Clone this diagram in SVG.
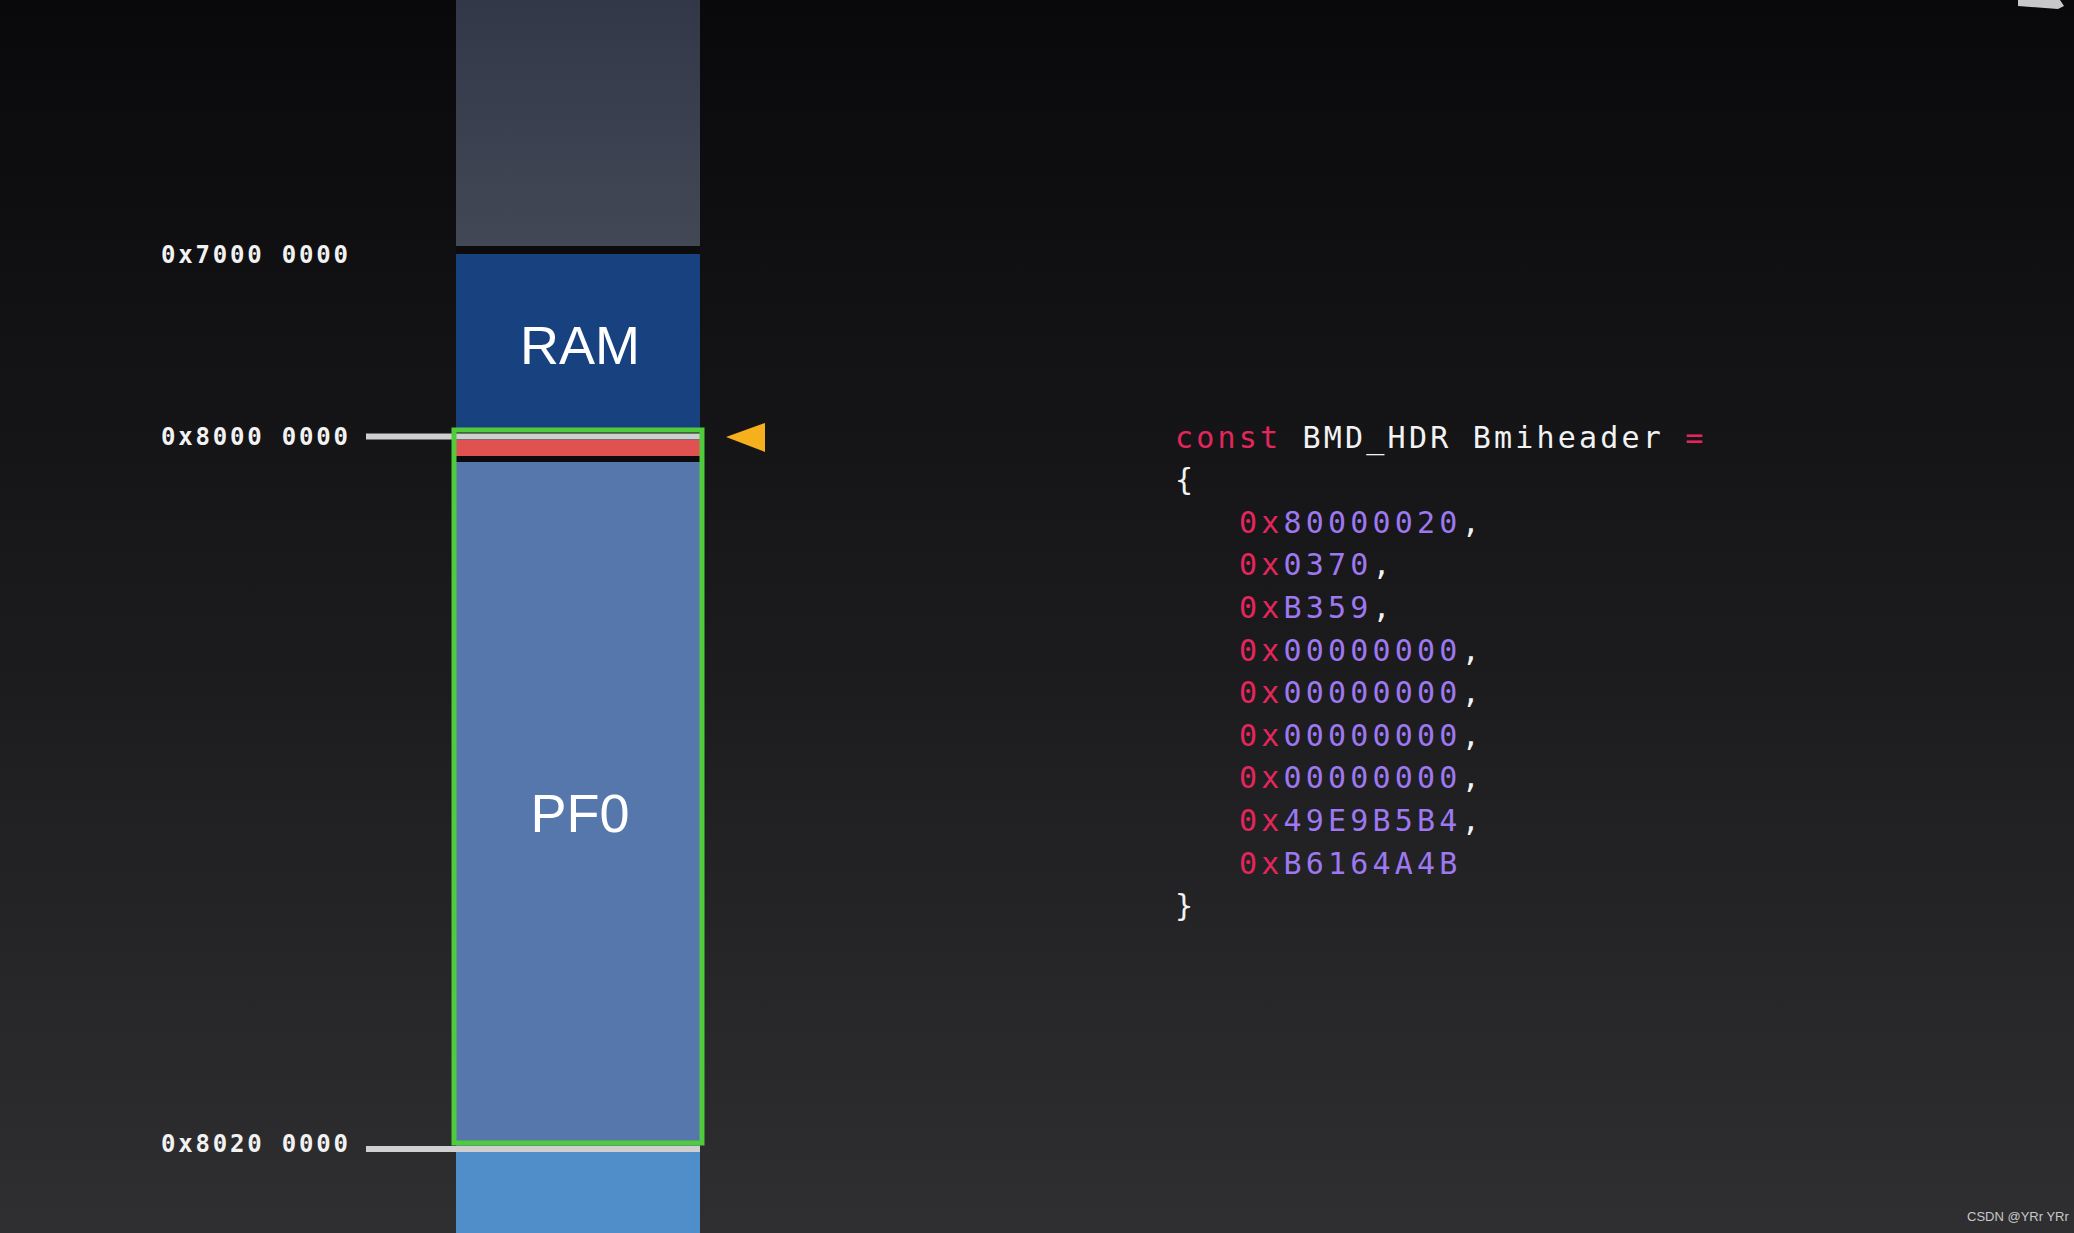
<svg xmlns="http://www.w3.org/2000/svg" width="2074" height="1233" viewBox="0 0 2074 1233">
<defs>
<linearGradient id="bg" x1="0" y1="0" x2="0" y2="1">
<stop offset="0" stop-color="#09090b"/>
<stop offset="0.5" stop-color="#1a1a1c"/>
<stop offset="1" stop-color="#2f2f32"/>
</linearGradient>
<linearGradient id="topblk" x1="0" y1="0" x2="0" y2="1">
<stop offset="0" stop-color="#333848"/>
<stop offset="1" stop-color="#434857"/>
</linearGradient>
<style>
.addr{font-family:"DejaVu Sans Mono","Liberation Mono",monospace;font-weight:bold;font-size:24px;letter-spacing:2.8px;fill:#f2f2f2}
.code{font-family:"DejaVu Sans Mono","Liberation Mono",monospace;font-size:30px;letter-spacing:3.2px;fill:#f2f2f2}
.val{letter-spacing:4.2px}
.kw{fill:#e4265c}
.num{fill:#9d78f0}
.blk{font-family:"Liberation Sans",Arial,sans-serif;font-size:54px;fill:#ffffff;text-anchor:middle}
.tick{stroke:#cfcfcf;stroke-width:6}
</style>
</defs>
<rect width="2074" height="1233" fill="url(#bg)"/>
<polygon points="2018,0 2060,0 2064,6 2058,9 2018,6" fill="#c8c8c8"/>

<g id="region-top"><rect x="456" y="0" width="244" height="246" fill="url(#topblk)"/></g>
<rect x="456" y="246" width="244" height="8" fill="#0c0c0e"/>
<g id="region-ram">
<rect x="456" y="254" width="244" height="174" fill="#17427f"/>
<text class="blk" x="580" y="364">RAM</text>
</g>
<g id="region-pf0">
<rect x="456" y="440" width="244" height="16" fill="#e05252"/>
<rect x="456" y="456" width="244" height="6" fill="#0c0c0e"/>
<rect x="456" y="462" width="244" height="684" fill="#5677ab"/>
<text class="blk" x="580" y="832">PF0</text>
</g>
<g id="region-below"><rect x="456" y="1151" width="244" height="82" fill="#4f8ec8"/></g>

<g id="connectors">
<line class="tick" x1="366" y1="436.5" x2="700" y2="436.5"/>
<line class="tick" x1="366" y1="1149" x2="700" y2="1149"/>
</g>

<g id="highlight"><rect x="454" y="430" width="248" height="713" fill="none" stroke="#4fcb3c" stroke-width="5"/></g>
<g id="pointer"><polygon points="726,437 765,423 765,452" fill="#f6b01e"/></g>

<g id="labels">
<text class="addr" x="161" y="263">0x7000 0000</text>
<text class="addr" x="161" y="445">0x8000 0000</text>
<text class="addr" x="161" y="1152">0x8020 0000</text>
</g>

<g id="code">
<text class="code" x="1175" y="447.5"><tspan class="kw">const</tspan> BMD_HDR Bmiheader <tspan class="kw">=</tspan></text>
<text class="code" x="1175" y="490">{</text>
<text class="code val" x="1239" y="532.7"><tspan class="kw">0x</tspan><tspan class="num">80000020</tspan>,</text>
<text class="code val" x="1239" y="575.3"><tspan class="kw">0x</tspan><tspan class="num">0370</tspan>,</text>
<text class="code val" x="1239" y="618"><tspan class="kw">0x</tspan><tspan class="num">B359</tspan>,</text>
<text class="code val" x="1239" y="660.5"><tspan class="kw">0x</tspan><tspan class="num">00000000</tspan>,</text>
<text class="code val" x="1239" y="703"><tspan class="kw">0x</tspan><tspan class="num">00000000</tspan>,</text>
<text class="code val" x="1239" y="745.7"><tspan class="kw">0x</tspan><tspan class="num">00000000</tspan>,</text>
<text class="code val" x="1239" y="788.3"><tspan class="kw">0x</tspan><tspan class="num">00000000</tspan>,</text>
<text class="code val" x="1239" y="831"><tspan class="kw">0x</tspan><tspan class="num">49E9B5B4</tspan>,</text>
<text class="code val" x="1239" y="873.5"><tspan class="kw">0x</tspan><tspan class="num">B6164A4B</tspan></text>
<text class="code" x="1175" y="916">}</text>
</g>

<text x="1967" y="1221" font-family="Liberation Sans,Arial,sans-serif" font-size="13" fill="#c8c8c8">CSDN @YRr YRr</text>
</svg>
